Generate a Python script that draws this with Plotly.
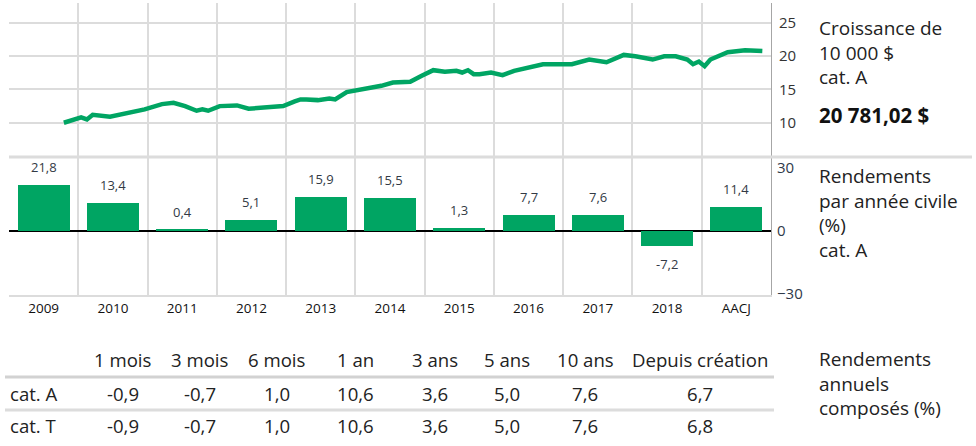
import plotly.graph_objects as go

# ---- data -------------------------------------------------------------
years = ["2009", "2010", "2011", "2012", "2013", "2014", "2015", "2016", "2017", "2018", "AACJ"]
calendar_returns = [21.8, 13.4, 0.4, 5.1, 15.9, 15.5, 1.3, 7.7, 7.6, -7.2, 11.4]

growth_months = [
    "2009-10", "2010-01", "2010-02", "2010-03", "2010-06", "2010-09", "2010-11", "2010-12",
    "2011-03", "2011-05", "2011-07", "2011-09", "2011-10", "2011-11", "2012-01", "2012-04",
    "2012-06", "2012-08", "2012-12", "2013-02", "2013-03", "2013-04", "2013-06", "2013-08",
    "2013-09", "2013-11", "2014-01", "2014-03", "2014-04", "2014-05", "2014-07", "2014-10",
    "2014-12", "2015-02", "2015-04", "2015-06", "2015-07", "2015-08", "2015-09", "2015-10",
    "2015-12", "2016-02", "2016-04", "2016-05", "2016-06", "2016-08", "2016-09", "2017-02",
    "2017-05", "2017-08", "2017-09", "2017-11", "2018-01", "2018-04", "2018-06", "2018-08",
    "2018-10", "2018-11", "2018-12", "2019-01", "2019-02", "2019-04", "2019-05", "2019-08",
    "2019-09", "2019-11",
]
growth_values = [
    10.0, 10.8, 10.5, 11.2, 10.9, 11.4, 11.9, 12.0,
    12.8, 13.0, 12.5, 11.8, 12.0, 11.8, 12.5, 12.6,
    12.1, 12.2, 12.5, 13.2, 13.5, 13.5, 13.4, 13.65,
    13.5, 14.6, 14.9, 15.25, 15.4, 15.55, 16.05, 16.15,
    17.05, 17.9, 17.65, 17.8, 17.55, 17.9, 17.3, 17.3,
    17.55, 17.15, 17.8, 18.0, 18.1, 18.65, 18.8, 18.8,
    19.5, 19.1, 19.5, 20.2, 20.0, 19.5, 20.0, 20.0,
    19.5, 18.8, 19.2, 18.5, 19.5, 20.3, 20.6, 20.9,
    20.9, 20.781,
]
growth_final_label = "20 781,02 $"
growth_ticks = [10, 15, 20, 25]
returns_ticks = [-30, 0, 30]

periods = ["1 mois", "3 mois", "6 mois", "1 an", "3 ans", "5 ans", "10 ans", "Depuis création"]
share_classes = ["cat. A", "cat. T"]
compound_a = [-0.9, -0.7, 1.0, 10.6, 3.6, 5.0, 7.6, 6.7]
compound_t = [-0.9, -0.7, 1.0, 10.6, 3.6, 5.0, 7.6, 6.8]

# ---- style ------------------------------------------------------------
W, H = 976, 439
GREEN = "#00A563"
GRID = "#dcdcdc"
AXIS = "#a6a6a6"
TEXT = "#222222"
FONT = "Open Sans, Noto Sans, sans-serif"
FIRST_YEAR = 2009


def fx(p):
    return p / W


def fy(p):
    return 1 - p / H


def fr(v):
    return f"{v:.1f}".replace(".", ",")


def month_to_year(s):
    y, m = map(int, s.split("-"))
    return y + (m - 0.5) / 12


bar_x = [FIRST_YEAR + i + 0.5 for i in range(len(years))]
year_edges = [FIRST_YEAR + i for i in range(len(years) + 1)]
x_range = [year_edges[0], year_edges[-1]]
growth_x = [month_to_year(m) for m in growth_months]

fig = go.Figure()

fig.add_trace(go.Scatter(
    x=growth_x, y=growth_values, mode="lines",
    line=dict(color=GREEN, width=4.5),
    xaxis="x", yaxis="y", hoverinfo="skip", showlegend=False,
))

fig.add_trace(go.Bar(
    x=bar_x, y=calendar_returns, width=0.75,
    marker=dict(color=GREEN, line=dict(width=0)),
    xaxis="x2", yaxis="y2", hoverinfo="skip", showlegend=False,
))

minor_grid = dict(tickmode="array", tickvals=year_edges, showgrid=True,
                  gridcolor=GRID, gridwidth=2, ticks="")

plot_dom = [fx(9), fx(771)]

fig.update_layout(
    width=W, height=H, autosize=False,
    margin=dict(l=0, r=0, t=0, b=0),
    paper_bgcolor="white", plot_bgcolor="white",
    font=dict(family=FONT, color=TEXT),
    showlegend=False,
    xaxis=dict(
        domain=plot_dom, range=x_range, anchor="y",
        tickmode="array", tickvals=bar_x, showticklabels=False,
        showgrid=False, zeroline=False, showline=False, ticks="",
        minor=minor_grid, automargin=False,
    ),
    yaxis=dict(
        domain=[fy(156), fy(3)], range=[5, 28], anchor="x", side="right",
        tickmode="array", tickvals=growth_ticks,
        showgrid=True, gridcolor=GRID, gridwidth=2,
        zeroline=False, showline=True, linecolor=AXIS, linewidth=1,
        ticks="", ticklabelstandoff=4, automargin=False,
        tickfont=dict(size=15, color="#333333"),
    ),
    xaxis2=dict(
        domain=plot_dom, range=x_range, anchor="y2",
        tickmode="array", tickvals=bar_x, ticktext=years,
        showgrid=False, zeroline=False,
        showline=True, linecolor=GRID, linewidth=2, ticks="",
        tickfont=dict(size=13.5, color="#111111"),
        minor=minor_grid, automargin=False,
    ),
    yaxis2=dict(
        domain=[fy(294.5), fy(157)], range=[-30.4, 35.1], anchor="x2", side="right",
        tickmode="array", tickvals=returns_ticks,
        showgrid=False, zeroline=True, zerolinecolor="#000000", zerolinewidth=1.5,
        showline=True, linecolor=AXIS, linewidth=1,
        ticks="", ticklabelstandoff=2, automargin=False,
        tickfont=dict(size=15, color="#2f3a4a"),
    ),
    bargap=0,
)

# compound returns table geometry (pixels from the top)
col_centers = [123, 200, 277, 355, 435, 507, 585, 700]
header_y = 359
row_y = [393, 425]
rule_y = [377, 410]

shapes = [
    # separator between the growth panel and the calendar returns panel
    dict(type="line", xref="paper", yref="paper", x0=fx(9), x1=fx(972),
         y0=fy(157), y1=fy(157), line=dict(color=GRID, width=3)),
    # table rules
    dict(type="line", xref="paper", yref="paper", x0=fx(5), x1=fx(774),
         y0=fy(rule_y[0]), y1=fy(rule_y[0]), line=dict(color="#d2d2d2", width=3)),
    dict(type="line", xref="paper", yref="paper", x0=fx(5), x1=fx(774),
         y0=fy(rule_y[1]), y1=fy(rule_y[1]), line=dict(color="#dcdcdc", width=3)),
]
fig.update_layout(shapes=shapes)

annotations = []

# value labels on the calendar-year bars
for xv, v in zip(bar_x, calendar_returns):
    annotations.append(dict(
        x=xv, y=v, xref="x2", yref="y2", text=fr(v), showarrow=False,
        yshift=18 if v >= 0 else -18,
        font=dict(size=13, color="#333a45"),
    ))

# side captions
side = dict(xref="paper", yref="paper", showarrow=False, xanchor="left",
            align="left", font=dict(size=19, color=TEXT))
annotations.append(dict(side, x=fx(817), y=fy(52), yanchor="middle",
                        text="Croissance de<br>10 000 $<br>cat. A"))
annotations.append(dict(side, x=fx(817), y=fy(115), yanchor="middle",
                        text=f"<b>{growth_final_label}</b>",
                        font=dict(size=20.5, color="#111111")))
annotations.append(dict(side, x=fx(817), y=fy(213), yanchor="middle",
                        text="Rendements<br>par année civile<br>(%)<br>cat. A"))
annotations.append(dict(side, x=fx(817), y=fy(383), yanchor="middle",
                        text="Rendements<br>annuels<br>composés (%)"))

# compound returns table
cell = dict(xref="paper", yref="paper", showarrow=False, yanchor="middle",
            font=dict(size=18.6, color=TEXT))
for cx, label in zip(col_centers, periods):
    annotations.append(dict(cell, x=fx(cx), y=fy(header_y), xanchor="center", text=label))
for ry, name, vals in zip(row_y, share_classes, [compound_a, compound_t]):
    annotations.append(dict(cell, x=fx(8), y=fy(ry), xanchor="left", text=name))
    for cx, v in zip(col_centers, vals):
        annotations.append(dict(cell, x=fx(cx), y=fy(ry), xanchor="center", text=fr(v)))

fig.update_layout(annotations=annotations)

fig.write_html("out.html")
